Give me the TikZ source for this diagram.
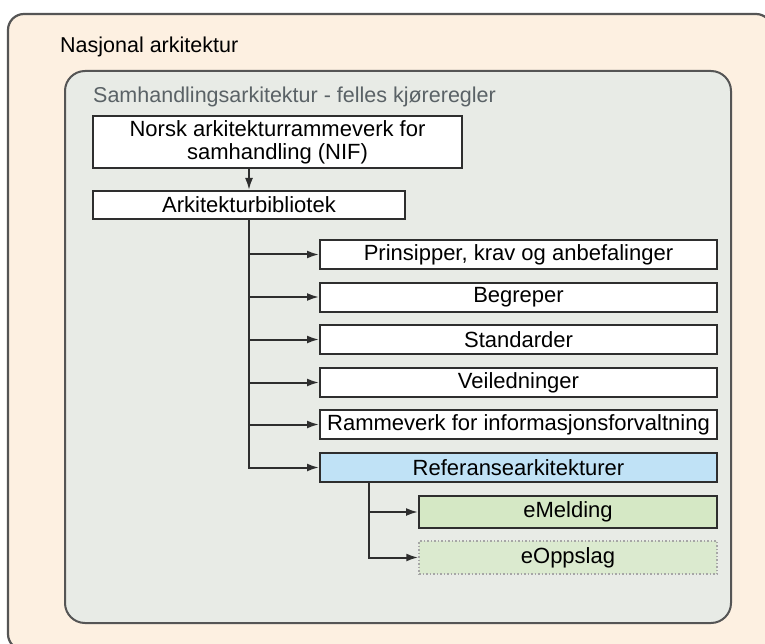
\documentclass[tikz,border=0pt]{standalone}
\usepackage{fontspec}
\setmainfont{Liberation Sans}
\usetikzlibrary{arrows.meta}
\definecolor{outerfill}{HTML}{FDF0E1}
\definecolor{innerfill}{HTML}{E8EBE6}
\definecolor{bordergray}{HTML}{555555}
\definecolor{boxline}{HTML}{2E2E2E}
\definecolor{reffill}{HTML}{C0E2F6}
\definecolor{greenfill}{HTML}{D5E8C5}
\definecolor{greenlight}{HTML}{DBEACF}
\definecolor{titlegray}{HTML}{5A6266}
\tikzset{
  itembox/.style={draw=boxline, line width=2pt, fill=white, minimum height=29pt, inner sep=0pt, font=\fontsize{22}{24}\selectfont, text=black},
  arr/.style={draw=boxline, line width=2pt, -{Latex[length=12pt,width=8pt]}},
}
\begin{document}
\begin{tikzpicture}[x=1pt,y=-1pt]
\useasboundingbox (0,0) rectangle (765,644);
\clip (0,0) rectangle (765,644);
\fill[white] (0,0) rectangle (765,644);
\draw[draw=bordergray, line width=2.2pt, fill=outerfill, rounded corners=16pt] (8,14) rectangle (772,650);
\draw[draw=bordergray, line width=2pt, fill=innerfill, rounded corners=20pt] (65,71) rectangle (731,623);
\node[anchor=west, inner sep=0pt, font=\fontsize{21.5}{24}\selectfont] (nat) at (60,47) {Nasjonal arkitektur};
\node[anchor=west, inner sep=0pt, font=\fontsize{21.5}{24}\selectfont, text=titlegray] (sam) at (93,97) {Samhandlingsarkitektur - felles kjøreregler};
\node[itembox, minimum width=369pt, minimum height=52pt, align=center, font=\fontsize{22}{23}\selectfont] (nif) at (277.5,142) {Norsk arkitekturrammeverk for\\samhandling (NIF)};
\node[itembox, minimum width=312pt, minimum height=28pt] (ark) at (249,205) {Arkitekturbibliotek};
\node[itembox, minimum width=397pt] (p1) at (518.5,254.5) {Prinsipper, krav og anbefalinger};
\node[itembox, minimum width=397pt] (p2) at (518.5,297) {Begreper};
\node[itembox, minimum width=397pt] (p3) at (518.5,339.5) {Standarder};
\node[itembox, minimum width=397pt] (p4) at (518.5,382.5) {Veiledninger};
\node[itembox, minimum width=397pt] (p5) at (518.5,424.5) {Rammeverk for informasjonsforvaltning};
\node[itembox, minimum width=397pt, fill=reffill] (ref) at (518.5,467.5) {Referansearkitekturer};
\node[itembox, minimum width=298pt, minimum height=32pt, fill=greenfill] (em) at (568,512) {eMelding};
\node[itembox, minimum width=298pt, minimum height=33pt, fill=greenlight, draw=gray!70, line width=1.5pt, dotted] (eo) at (568,557.5) {eOppslag};
\draw[arr] (nif.south -| ark.north) -- (ark.north);
\draw[arr] (ark.south) |- (p1.west);
\draw[arr] (ark.south) |- (p2.west);
\draw[arr] (ark.south) |- (p3.west);
\draw[arr] (ark.south) |- (p4.west);
\draw[arr] (ark.south) |- (p5.west);
\draw[arr] (ark.south) |- (ref.west);
\coordinate (rs) at ([xshift=50pt]ref.south west);
\draw[arr] (rs) |- (em.west);
\draw[arr] (rs) |- (eo.west);
\end{tikzpicture}
\end{document}
